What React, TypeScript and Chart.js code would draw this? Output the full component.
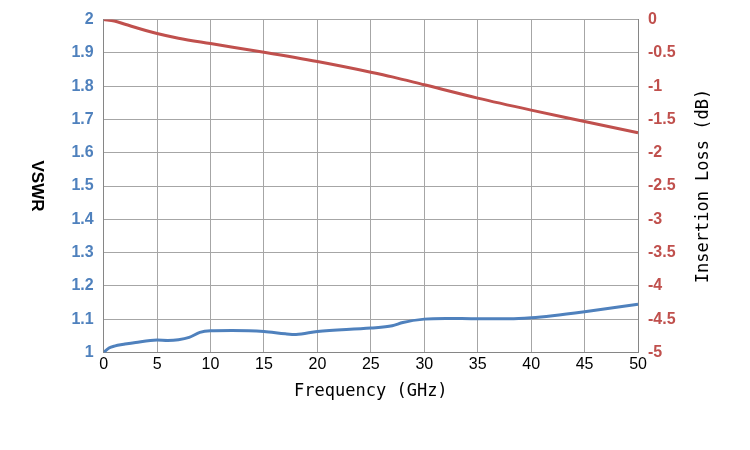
import React, { useEffect, useRef } from "react";
import { Chart, registerables } from "chart.js";
Chart.register(...registerables);

const vswrFreq = [0, 0.5, 1, 2, 3, 5, 6, 7, 8, 9, 10, 12, 15, 17, 18, 20, 25, 27, 28, 30, 32, 35, 38, 40, 42, 45, 50];
const vswrVals = [1.0, 1.013, 1.019, 1.025, 1.03, 1.037, 1.036, 1.038, 1.045, 1.06, 1.065, 1.066, 1.063, 1.056, 1.054, 1.063, 1.073, 1.08, 1.09, 1.1, 1.102, 1.101, 1.101, 1.104, 1.11, 1.122, 1.145];
const ilFreq = [0, 1, 2, 5, 7, 10, 15, 20, 25, 27, 30, 35, 40, 45, 50];
const ilVals = [0, -0.02, -0.07, -0.21, -0.28, -0.36, -0.49, -0.63, -0.79, -0.86, -0.98, -1.18, -1.36, -1.53, -1.7];

const titlePlugin = {
  id: "customTitles",
  afterDraw(chart: any) {
    const ctx = chart.ctx;
    const ca = chart.chartArea;
    const cy = (ca.top + ca.bottom) / 2;
    ctx.save();
    ctx.fillStyle = "#000";
    ctx.textAlign = "center";
    ctx.textBaseline = "middle";
    ctx.font = "bold 17px 'Liberation Sans'";
    ctx.translate(chart.scales.y.left + 18, cy);
    ctx.rotate(Math.PI / 2);
    ctx.fillText("VSWR", 0, 0);
    ctx.restore();
    ctx.save();
    ctx.fillStyle = "#000";
    ctx.textAlign = "center";
    ctx.textBaseline = "middle";
    ctx.font = "17px 'DejaVu Sans Mono'";
    ctx.translate(chart.scales.y2.right - 10, cy);
    ctx.rotate(-Math.PI / 2);
    ctx.fillText("Insertion Loss (dB)", 0, 0);
    ctx.restore();
  },
};

export default function App() {
  const ref = useRef<HTMLCanvasElement>(null);
  useEffect(() => {
    document.body.style.margin = "0";
    const tickFont = { family: "Liberation Sans", size: 16, weight: "bold" as const };
    const chart = new Chart(ref.current!, {
      type: "line",
      data: {
        datasets: [
          { label: "VSWR", data: vswrFreq.map((x, i) => ({ x, y: vswrVals[i] })), borderColor: "#4f81bd", borderWidth: 3, pointRadius: 0, cubicInterpolationMode: "monotone", yAxisID: "y" },
          { label: "IL", data: ilFreq.map((x, i) => ({ x, y: ilVals[i] })), borderColor: "#c0504d", borderWidth: 3, pointRadius: 0, cubicInterpolationMode: "monotone", yAxisID: "y2" },
        ],
      },
      options: {
        animation: false,
        responsive: false,
        layout: { padding: { left: 19, right: 36, top: 15, bottom: 44 } },
        plugins: { legend: { display: false }, tooltip: { enabled: false } },
        scales: {
          x: {
            type: "linear", min: 0, max: 50,
            ticks: { stepSize: 5, color: "#000", font: { family: "Liberation Sans", size: 16 } },
            grid: { color: "#a6a6a6", drawTicks: false }, border: { color: "#868686" },
            title: { display: true, text: "Frequency (GHz)", color: "#000", font: { family: "DejaVu Sans Mono", size: 17 } },
          },
          y: {
            position: "left", min: 1, max: 2,
            ticks: { stepSize: 0.1, color: "#4f81bd", font: tickFont, padding: 10, callback: (v: any) => (Math.round(v * 10) / 10).toString() },
            grid: { color: "#a6a6a6", drawTicks: false }, border: { color: "#868686" },
            title: { display: true, text: "VSWR", color: "rgba(0,0,0,0)", font: { family: "Liberation Sans", size: 17, weight: "bold" }, padding: { bottom: 18 } },
          },
          y2: {
            position: "right", min: -5, max: 0,
            ticks: { stepSize: 0.5, color: "#c0504d", font: tickFont, padding: 10, callback: (v: any) => (Math.round(v * 10) / 10).toString() },
            grid: { display: false, drawTicks: false }, border: { color: "#868686" },
            title: { display: true, text: "Insertion Loss (dB)", color: "rgba(0,0,0,0)", font: { family: "DejaVu Sans Mono", size: 17 } },
          },
        },
      },
      plugins: [titlePlugin],
    });
    return () => chart.destroy();
  }, []);
  return <canvas ref={ref} width={750} height={450} />;
}
